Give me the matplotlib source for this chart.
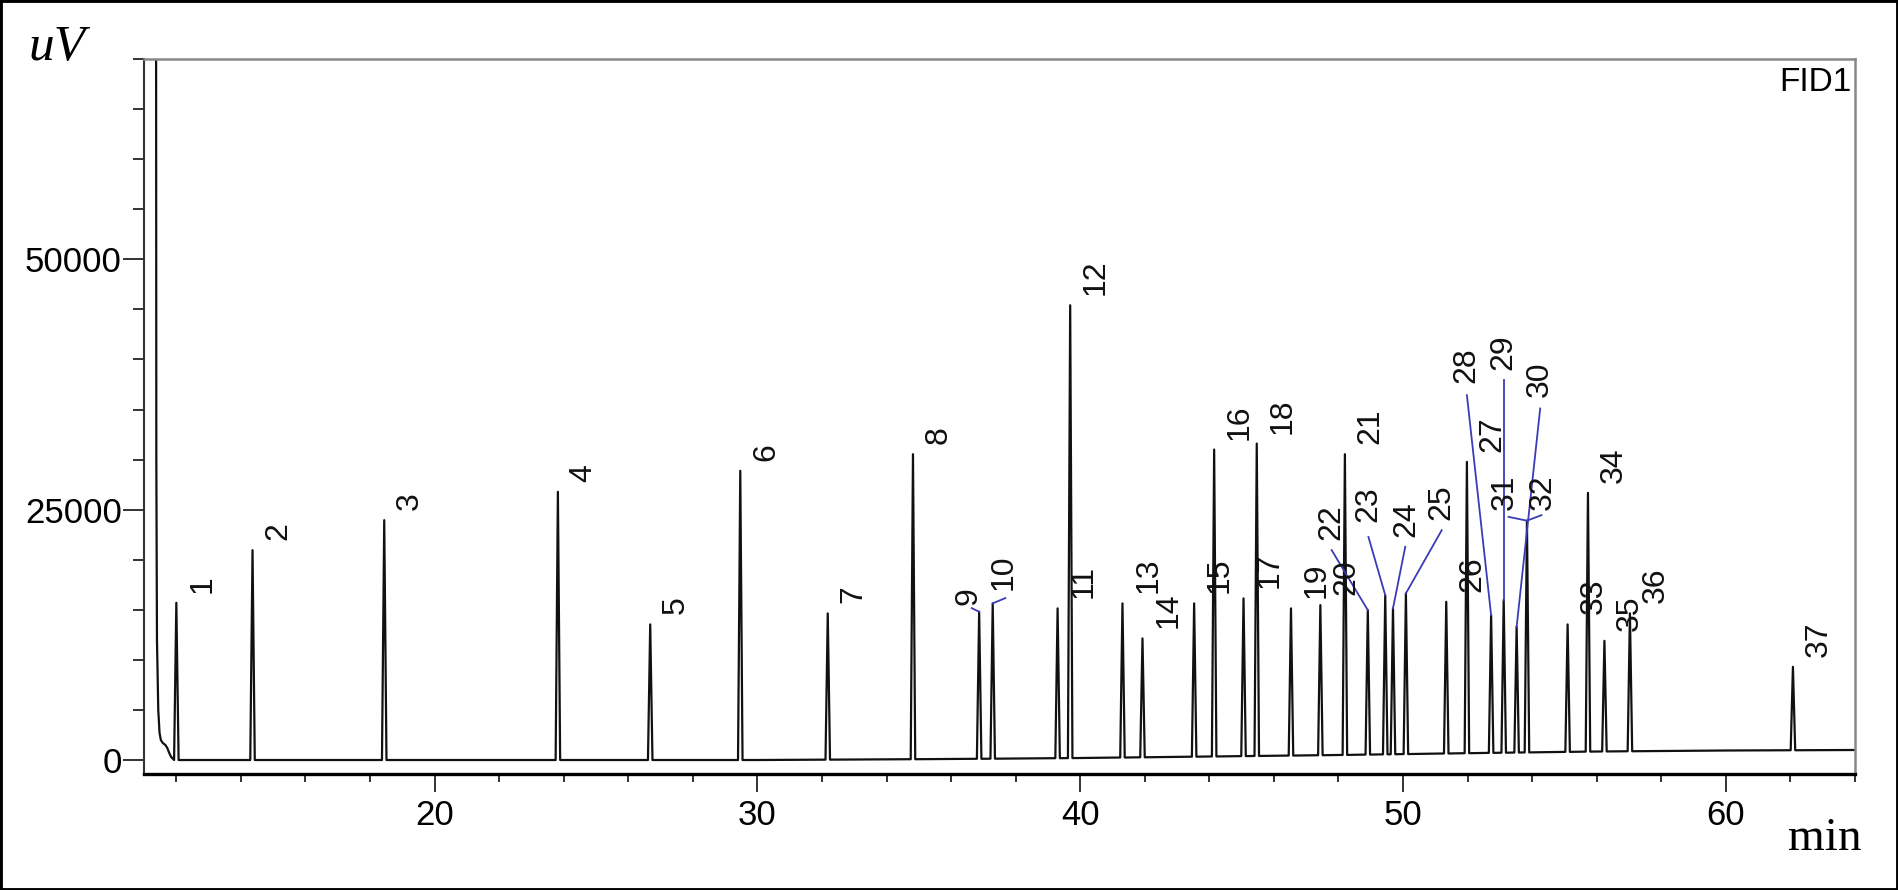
import numpy as np
import matplotlib.pyplot as plt
from matplotlib.ticker import MultipleLocator, FixedLocator
from matplotlib.patches import Rectangle

# peaks: retention time (min) and apex height (uV)
peak_names = [str(i) for i in range(1, 38)]
peak_times = [12.00, 14.36, 18.44, 23.82, 26.68, 29.47, 32.18, 34.82, 36.87, 37.29,
              39.30, 39.69, 41.31, 41.93, 43.53, 44.15, 45.06, 45.47, 46.53, 47.44,
              48.20, 48.91, 49.45, 49.69, 50.09, 51.34, 51.98, 52.73, 53.12, 53.52,
              53.84, 53.84, 55.10, 55.73, 56.24, 57.03, 62.08]
peak_heights = [15700, 20960, 23950, 26780, 13540, 28880, 14640, 30540, 14800, 15640,
                15140, 45410, 15640, 12140, 15640, 31000, 16140, 31600, 15140, 15470,
                30540, 14970, 16470, 15140, 16640, 15800, 29770, 14470, 16000, 13300,
                23900, 23900, 13540, 26680, 11900, 14650, 9310]

# solvent front (goes off scale)
solvent_times = [11.37, 11.38, 11.40, 11.44, 11.48, 11.52, 11.58, 11.66, 11.72, 11.78, 11.84, 11.90]
solvent_heights = [90000, 30000, 12000, 5000, 2700, 2000, 1700, 1500, 1200, 700, 300, 100]

# slowly drifting baseline
base_times = [12.5, 20, 30, 36, 40, 44, 48, 52.4, 56, 60, 64]
base_heights = [0, 0, 0, 100, 200, 350, 500, 700, 850, 950, 1000]

# labels moved away from their peak and tied to it by a blue line:
# label x, label foot y, line start x, line start y
moved_labels = {
    '9': (36.54, 15500, 36.64, 15170),
    '10': (37.63, 16970, 37.68, 16170),
    '22': (47.79, 21960, 47.79, 20960),
    '23': (48.93, 23750, 48.93, 22270),
    '24': (50.09, 22250, 50.07, 21290),
    '25': (51.20, 23950, 51.20, 22950),
    '28': (51.97, 37620, 51.98, 36430),
    '29': (53.12, 38920, 53.12, 37920),
    '30': (54.23, 36260, 54.25, 35100),
    '31': (53.15, 24950, 53.27, 24280),
    '32': (54.33, 24950, 54.29, 24450),
}

plt.rcParams['font.family'] = ['Liberation Sans', 'DejaVu Sans']

fig = plt.figure(figsize=(18.98, 8.9), dpi=100)
ax = fig.add_axes([0.0759, 0.1303, 0.9014, 0.8034])

# build the trace: baseline + solvent + narrow peaks
half_w = 0.07
pts = list(zip(solvent_times, solvent_heights)) + list(zip(base_times, base_heights))
for t, h in zip(peak_times, peak_heights):
    b = np.interp(t, base_times, base_heights)
    pts += [(t - half_w, b), (t, h), (t + half_w, b)]
pts = sorted(pts, key=lambda p: p[0])
ax.plot([p[0] for p in pts], [p[1] for p in pts], color='#111111', lw=1.6)

# peak numbers
for name, t, h in zip(peak_names, peak_times, peak_heights):
    if name in moved_labels:
        lx, ly, sx, sy = moved_labels[name]
        ax.plot([sx, t], [sy, h], color='#3b3bb8', lw=1.3)
    else:
        lx, ly = t + 0.8, h + 1000
    ax.text(lx, ly, name, rotation=90, ha='center', va='bottom', fontsize=23, color='#111111')

ax.set_xlim(11.0, 64.0)
ax.set_ylim(-1400, 70000)

ax.xaxis.set_major_locator(FixedLocator([20, 30, 40, 50, 60]))
ax.xaxis.set_minor_locator(MultipleLocator(2))
ax.yaxis.set_major_locator(FixedLocator([0, 25000, 50000]))
ax.yaxis.set_minor_locator(MultipleLocator(5000))

ax.tick_params(axis='x', which='major', length=13, width=1.4, pad=5, labelsize=25, color='#333333')
ax.tick_params(axis='x', which='minor', length=6, width=1.4, color='#333333')
ax.tick_params(axis='y', which='major', length=15, width=1.4, pad=1, labelsize=25, color='#333333')
ax.tick_params(axis='y', which='minor', length=8, width=1.4, color='#333333')

ax.spines['bottom'].set_linewidth(2.4)
ax.spines['bottom'].set_color('black')
ax.spines['left'].set_linewidth(1.5)
ax.spines['left'].set_color('#333333')
for s in ['top', 'right']:
    ax.spines[s].set_linewidth(1.8)
    ax.spines[s].set_color('#888888')

ax.text(0.998, 0.989, 'FID1', transform=ax.transAxes, ha='right', va='top', fontsize=24)

fig.text(0.0148, 0.9326, 'uV', fontsize=37, style='italic',
         family=['Liberation Serif', 'DejaVu Serif'], va='baseline')
fig.text(0.942, 0.0449, 'min', fontsize=34,
         family=['Liberation Serif', 'DejaVu Serif'], va='baseline')

# frame round the whole picture
fig.patches.append(Rectangle((0, 0), 1, 1, transform=fig.transFigure, fill=False,
                             edgecolor='black', lw=3.5))

fig.savefig('out.png', dpi=100)
